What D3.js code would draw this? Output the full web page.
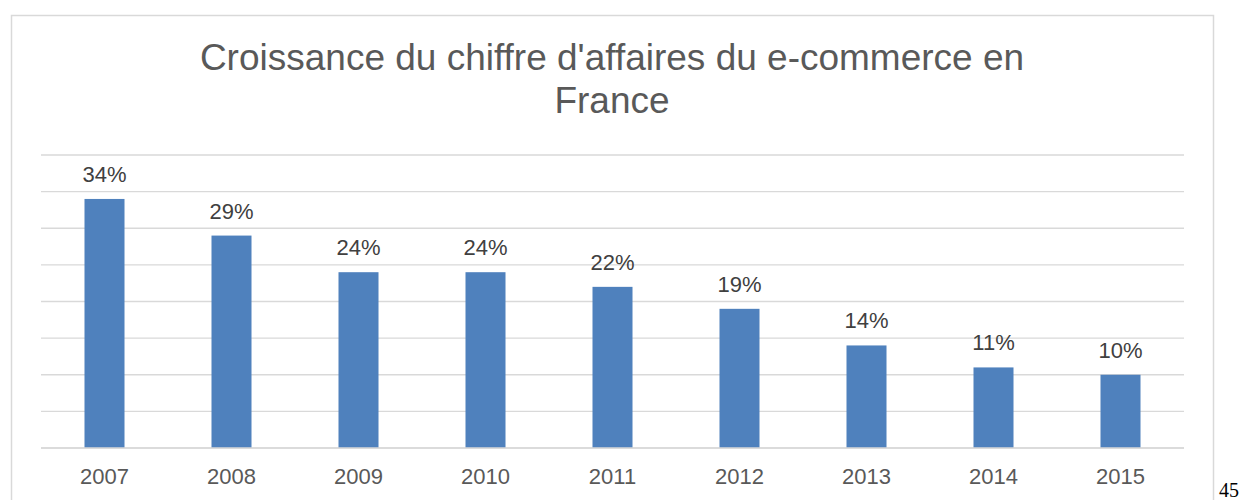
<!DOCTYPE html>
<html><head><meta charset="utf-8">
<script src="https://cdn.jsdelivr.net/npm/d3@7"></script>
<style>body{margin:0;background:#fff}svg{display:block}</style>
</head><body>
<svg id="c" width="1242" height="500"></svg>
<script>
const categories = ["2007","2008","2009","2010","2011","2012","2013","2014","2015"];
const values = [34, 29, 24, 24, 22, 19, 14, 11, 10];
const labels = ["34%","29%","24%","24%","22%","19%","14%","11%","10%"];
const gridTicks = [0,5,10,15,20,25,30,35,40];
const titleLines = ["Croissance du chiffre d'affaires du e-commerce en","France"];
const pageNumber = "45";

const svg = d3.select("#c");
const font = "Liberation Sans, Arial, sans-serif";
// frame
svg.append("rect").attr("x",11.5).attr("y",15.5).attr("width",1202).attr("height",500)
  .attr("fill","#fff").attr("stroke","#d9d9d9").attr("stroke-width",1.5);

const x = d3.scaleBand().domain(categories).range([41,1184]).paddingInner(0.685).paddingOuter(0.3425);
const y = d3.scaleLinear().domain([0,40]).range([448,155]);

svg.append("g").selectAll("line").data(gridTicks).join("line")
  .attr("x1",41).attr("x2",1184).attr("y1",d=>y(d)).attr("y2",d=>y(d))
  .attr("stroke","#d9d9d9").attr("stroke-width",1.3);

svg.append("g").selectAll("rect").data(values).join("rect")
  .attr("x",(d,i)=>x(categories[i])).attr("width",x.bandwidth())
  .attr("y",d=>y(d)).attr("height",d=>y(0)-y(d)).attr("fill","#4f81bd");

svg.append("line").attr("x1",41).attr("x2",1184).attr("y1",y(0)).attr("y2",y(0))
  .attr("stroke","#d9d9d9").attr("stroke-width",1.3);

svg.append("g").selectAll("text").data(values).join("text")
  .attr("x",(d,i)=>x(categories[i])+x.bandwidth()/2).attr("y",d=>y(d)-17)
  .attr("text-anchor","middle").attr("font-family",font).attr("font-size",22)
  .attr("fill","#404040").text((d,i)=>labels[i]);

const xAxis = svg.append("g").attr("transform",`translate(0,${y(0)})`)
  .call(d3.axisBottom(x).tickSize(0).tickPadding(0));
xAxis.select(".domain").remove();
xAxis.selectAll("text").attr("font-family",font).attr("font-size",22).attr("fill","#595959")
  .attr("dy",null).attr("y",36);

svg.append("g").selectAll("text").data(titleLines).join("text")
  .attr("x",612).attr("y",(d,i)=>70+i*43).attr("text-anchor","middle")
  .attr("font-family",font).attr("font-size",37).attr("fill","#595959").text(d=>d);

svg.append("text").attr("x",1219).attr("y",497).attr("font-family","Liberation Serif, Times New Roman, serif")
  .attr("font-size",20).attr("fill","#000").text(pageNumber);
</script>
</body></html>
